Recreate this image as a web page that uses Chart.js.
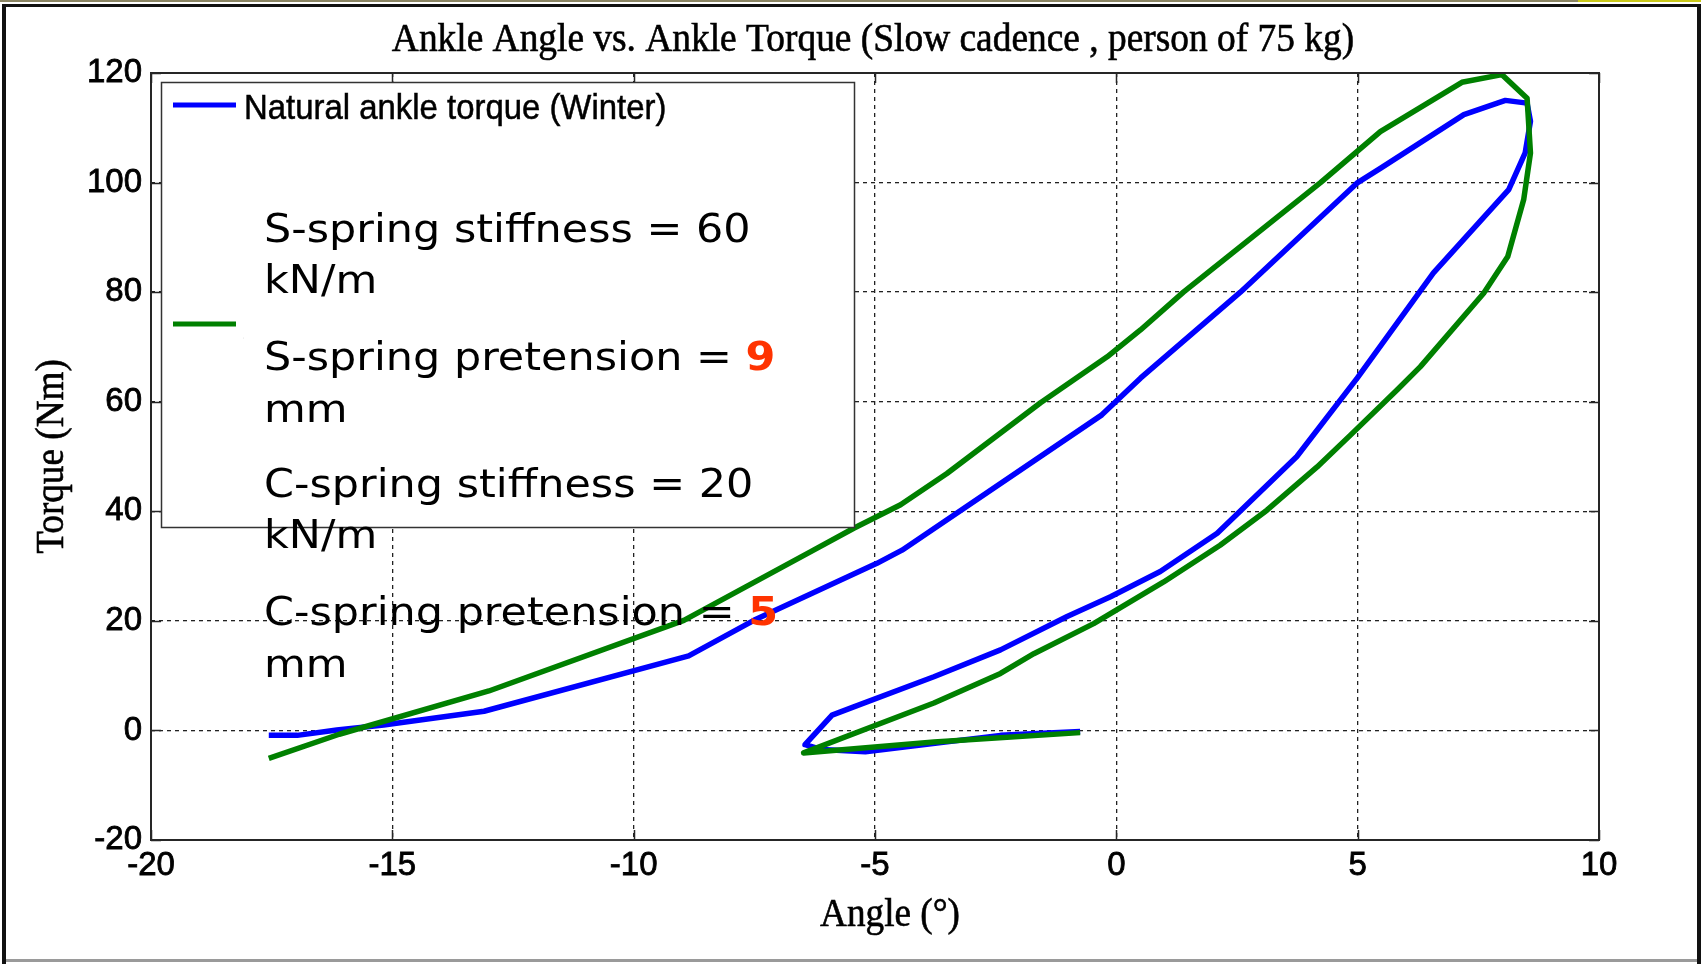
<!DOCTYPE html>
<html>
<head>
<meta charset="utf-8">
<title>Ankle Angle vs. Ankle Torque</title>
<script src="https://cdn.jsdelivr.net/npm/chart.js@4.4.1/dist/chart.umd.min.js"></script>
<style>
  html, body { margin: 0; padding: 0; background: #fff; }
  canvas { display: block; }
</style>
</head>
<body>
<canvas id="chart" width="1701" height="964"></canvas>
<script>
// one gait cycle, starting at heel strike: ankle angle (deg) and torque (Nm)
var winterAngle = [-0.75, -2.4, -5.2, -6.1, -6.45, -5.89, -5.44, -3.78, -2.4, -1.02, -0.12, 0.91, 2.09, 3.74, 4.99, 6.57, 8.13, 8.47, 8.58, 8.51, 8.06, 7.2, 5.47, 5.0, 2.57, 0.5, -0.3, -4.44, -4.96, -7.51, -8.86, -13.1, -15.18, -16.15, -16.97, -17.56];
var winterTorque = [-0.2, -0.9, -3.9, -3.5, -2.6, 2.8, 4.3, 9.8, 14.7, 20.8, 24.4, 29.0, 36.0, 50.0, 64.3, 83.5, 98.7, 105.4, 111.2, 114.5, 115.0, 112.4, 102.6, 100.0, 80.0, 64.3, 57.6, 32.9, 30.5, 20.1, 13.6, 3.5, 1.0, 0.06, -0.9, -0.9];

var springAngle = [-0.75, -3.78, -6.48, -3.78, -2.4, -1.71, -0.47, 0.98, 2.15, 3.12, 4.16, 4.85, 5.82, 6.3, 7.61, 8.11, 8.44, 8.58, 8.51, 7.99, 7.16, 5.47, 4.23, 1.39, 0.5, -0.19, -1.57, -3.51, -4.47, -5.44, -6.34, -8.96, -13.0, -16.1, -17.56];
var springTorque = [-0.4, -2.1, -4.1, 5.0, 10.4, 14.0, 19.5, 27.1, 33.8, 40.2, 48.1, 53.9, 62.2, 66.4, 79.8, 86.5, 96.9, 105.4, 115.4, 119.7, 118.3, 109.3, 100.0, 80.0, 73.1, 68.2, 59.8, 46.9, 41.2, 36.9, 32.6, 20.1, 7.2, -0.7, -5.1];

var xTicks = [-20, -15, -10, -5, 0, 5, 10];
var yTicks = [-20, 0, 20, 40, 60, 80, 100, 120];

var seriesLabels = ["Natural ankle torque (Winter)", "Ankle torque with S-spring and C-spring"];
var seriesColors = ["#0000ff", "#008000"];

var noteLines = ["S-spring stiffness = 60", "kN/m", "S-spring pretension = ", "mm", "C-spring stiffness = 20", "kN/m", "C-spring pretension = ", "mm"];
var noteValues = [null, null, "9", null, null, null, "5", null];

var matlabSans = '"Liberation Sans", Arial, sans-serif';
var matlabSerif = '"Liberation Serif", "Times New Roman", serif';

function toPoints(xs, ys) {
  return xs.map(function(x, i) { return { x: x, y: ys[i] }; });
}

// text drawn with a horizontal squeeze factor and a thin outline to thicken it
function drawText(ctx, text, x, y, sx, align, weight) {
  ctx.save();
  ctx.translate(x, y);
  ctx.scale(sx, 1);
  ctx.textAlign = align || "left";
  ctx.fillText(text, 0, 0);
  if (weight) {
    ctx.lineWidth = weight;
    ctx.strokeStyle = ctx.fillStyle;
    ctx.strokeText(text, 0, 0);
  }
  ctx.restore();
}

var figurePlugin = {
  id: "figure",
  beforeDraw: function(chart) {
    var ctx = chart.ctx;
    ctx.save();
    ctx.fillStyle = "#fff";
    ctx.fillRect(0, 0, chart.width, chart.height);
    ctx.restore();
  },
  afterDatasetsDraw: function(chart) {
    var ctx = chart.ctx;
    var area = chart.chartArea;
    var xs = chart.scales.x;
    var ys = chart.scales.y;
    ctx.save();

    // inward tick marks on all four sides
    ctx.strokeStyle = "#262626";
    ctx.lineWidth = 1.5;
    ctx.beginPath();
    xs.ticks.forEach(function(t) {
      var px = Math.round(xs.getPixelForValue(t.value)) + 0.5;
      ctx.moveTo(px, area.bottom); ctx.lineTo(px, area.bottom - 10);
      ctx.moveTo(px, area.top); ctx.lineTo(px, area.top + 10);
    });
    ys.ticks.forEach(function(t) {
      var py = Math.round(ys.getPixelForValue(t.value)) + 0.5;
      ctx.moveTo(area.left, py); ctx.lineTo(area.left + 10, py);
      ctx.moveTo(area.right, py); ctx.lineTo(area.right - 10, py);
    });
    ctx.stroke();

    // axes box
    ctx.lineWidth = 2;
    ctx.strokeRect(area.left, area.top, area.right - area.left, area.bottom - area.top);

    // legend
    var lg = { left: 161, top: 82, right: 854, bottom: 527 };
    ctx.fillStyle = "#fff";
    ctx.fillRect(lg.left, lg.top, lg.right - lg.left, lg.bottom - lg.top);
    ctx.strokeStyle = "#333";
    ctx.lineWidth = 1.5;
    ctx.strokeRect(lg.left + 0.5, lg.top + 0.5, lg.right - lg.left, lg.bottom - lg.top);
    var rowY = [105, 324];
    ctx.font = "35px " + matlabSans;
    ctx.textBaseline = "alphabetic";
    chart.data.datasets.forEach(function(ds, i) {
      ctx.strokeStyle = ds.borderColor;
      ctx.lineWidth = 5;
      ctx.beginPath();
      ctx.moveTo(173, rowY[i]);
      ctx.lineTo(236, rowY[i]);
      ctx.stroke();
      ctx.fillStyle = "#000";
      drawText(ctx, ds.label, 244, rowY[i] + 14, 0.94, "left", 0.5);
    });

    // spring parameter notes, on a white box over the second legend label
    ctx.fillStyle = "#fff";
    ctx.fillRect(244, 195, 609, 330);
    var baselines = [242, 293, 370, 422, 497, 548, 625, 677];
    noteLines.forEach(function(line, i) {
      ctx.save();
      ctx.translate(264, baselines[i]);
      ctx.scale(1.1, 1);
      ctx.font = '39px "DejaVu Sans", Verdana, sans-serif';
      ctx.fillStyle = "#000";
      ctx.fillText(line, 0, 0);
      if (noteValues[i]) {
        var w = ctx.measureText(line).width;
        ctx.font = 'bold 39px "DejaVu Sans", Verdana, sans-serif';
        ctx.fillStyle = "#ff3300";
        ctx.fillText(noteValues[i], w, 0);
      }
      ctx.restore();
    });
    ctx.restore();
  },
  afterDraw: function(chart) {
    var ctx = chart.ctx;
    var area = chart.chartArea;
    ctx.save();
    ctx.fillStyle = "#000";
    ctx.textBaseline = "alphabetic";
    ctx.font = "40px " + matlabSerif;
    drawText(ctx, "Ankle Angle vs. Ankle Torque (Slow cadence , person of 75 kg)", (area.left + area.right) / 2 - 2, 51, 0.935, "center", 0.6);
    drawText(ctx, "Angle (\u00b0)", (area.left + area.right) / 2 + 15, 926, 0.93, "center", 0.6);
    ctx.save();
    ctx.translate(63, (area.top + area.bottom) / 2);
    ctx.rotate(-Math.PI / 2);
    drawText(ctx, "Torque (Nm)", 0, 0, 0.93, "center", 0.6);
    ctx.restore();

    // slide frame
    ctx.fillStyle = "#8a8462";
    ctx.fillRect(0, 0, 1578, 2);
    ctx.fillStyle = "#c9c81a";
    ctx.fillRect(1578, 0, 123, 2);
    ctx.fillStyle = "#111";
    ctx.fillRect(2, 4, 1699, 3);
    ctx.fillRect(2, 4, 4, 960);
    ctx.fillRect(1697, 4, 4, 960);
    ctx.fillStyle = "#9a9a9a";
    ctx.fillRect(6, 959, 1691, 3);
    ctx.restore();
  }
};

function tickList(values) {
  return function(scale) {
    scale.ticks = values.map(function(v) { return { value: v }; });
  };
}

var tickStyle = {
  color: "#000",
  textStrokeColor: "#000",
  textStrokeWidth: 0.8,
  font: { family: matlabSans, size: 33 }
};

var ctx = document.getElementById("chart").getContext("2d");
var chart = new Chart(ctx, {
  type: "scatter",
  data: {
    datasets: [
      {
        label: seriesLabels[0],
        data: toPoints(winterAngle, winterTorque),
        borderColor: seriesColors[0],
        backgroundColor: seriesColors[0],
        showLine: true,
        borderWidth: 5.5,
        borderJoinStyle: "round",
        pointRadius: 0,
        order: 1
      },
      {
        label: seriesLabels[1],
        data: toPoints(springAngle, springTorque),
        borderColor: seriesColors[1],
        backgroundColor: seriesColors[1],
        showLine: true,
        borderWidth: 5.5,
        borderJoinStyle: "round",
        pointRadius: 0,
        order: 0
      }
    ]
  },
  options: {
    responsive: false,
    animation: false,
    devicePixelRatio: 1,
    layout: { padding: { left: 0, right: 102, top: 73, bottom: 0 } },
    plugins: {
      legend: { display: false },
      tooltip: { enabled: false },
      title: { display: false }
    },
    scales: {
      x: {
        type: "linear",
        min: -20,
        max: 10,
        afterBuildTicks: tickList(xTicks),
        afterFit: function(scale) { scale.height = 124; },
        grid: { color: "#222", lineWidth: 1.3, drawTicks: false },
        border: { display: false, dash: [4, 4] },
        ticks: Object.assign({ padding: 6 }, tickStyle)
      },
      y: {
        type: "linear",
        min: -20,
        max: 120,
        afterBuildTicks: tickList(yTicks),
        afterFit: function(scale) { scale.width = 151; },
        grid: { color: "#222", lineWidth: 1.3, drawTicks: false },
        border: { display: false, dash: [4, 4] },
        ticks: Object.assign({ padding: 9 }, tickStyle)
      }
    }
  },
  plugins: [figurePlugin]
});
</script>
</body>
</html>
